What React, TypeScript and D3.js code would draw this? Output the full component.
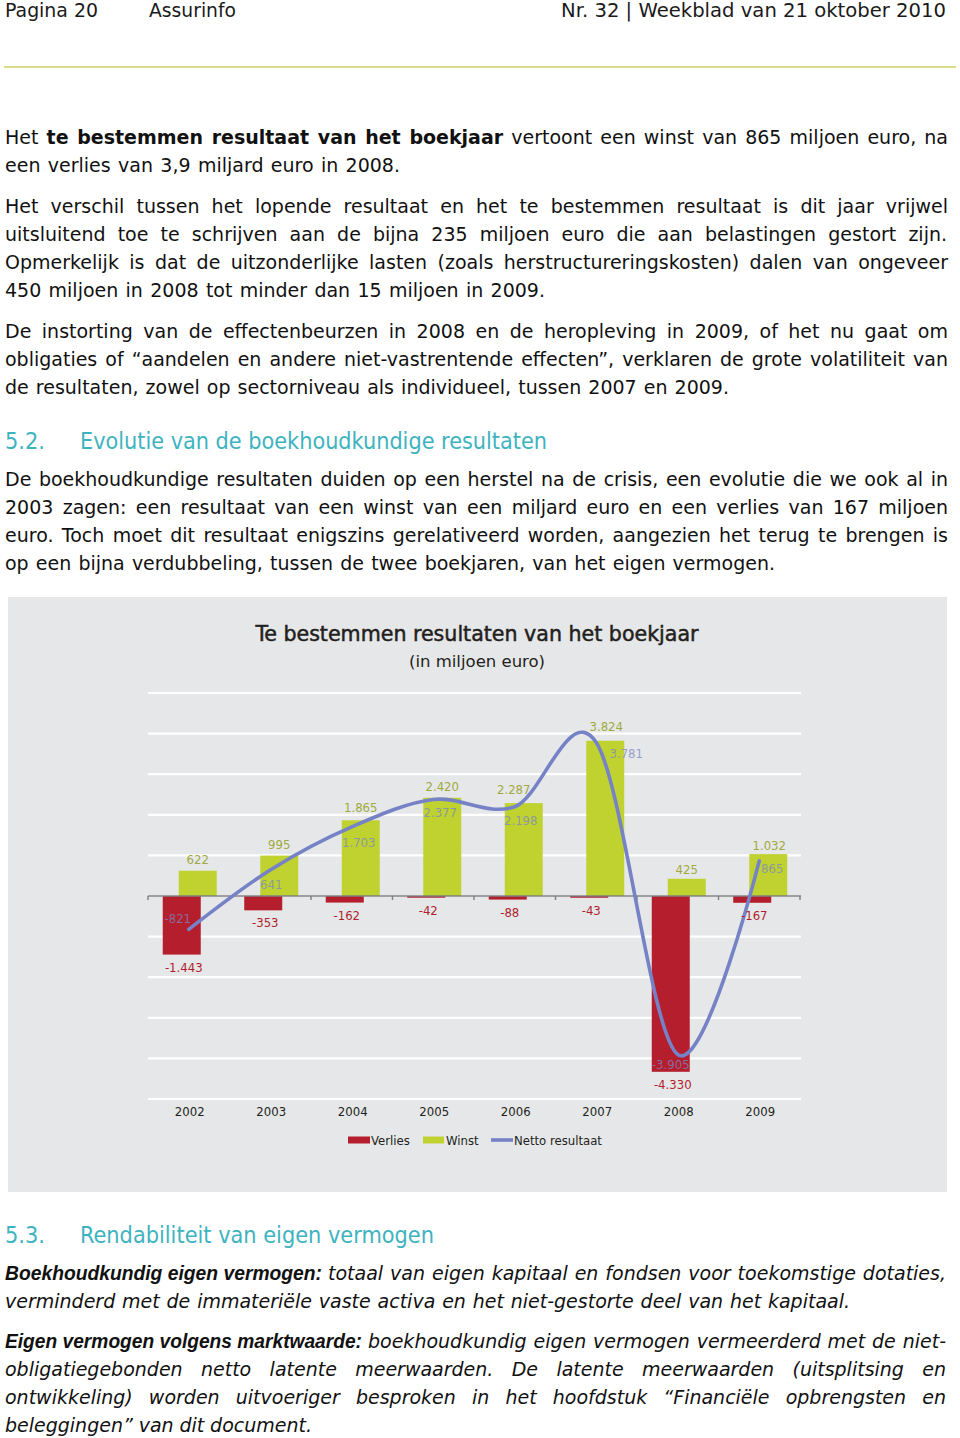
import React, { useEffect, useRef } from 'react';
import * as d3 from 'd3';

// ---------- chart data ----------
const years = ['2002', '2003', '2004', '2005', '2006', '2007', '2008', '2009'];
const winst = [622, 995, 1865, 2420, 2287, 3824, 425, 1032];
const verlies = [-1443, -353, -162, -42, -88, -43, -4330, -167];
const netto = [-821, 641, 1703, 2377, 2198, 3781, -3905, 865];
const yTicks = [-5000, -4000, -3000, -2000, -1000, 0, 1000, 2000, 3000, 4000, 5000];
const legendLabels = ['Verlies', 'Winst', 'Netto resultaat'];
const chartTitle = 'Te bestemmen resultaten van het boekjaar';
const chartSubtitle = '(in miljoen euro)';

// label nudges (layout only)
const winstNudge: [number, number][] = [[0, 0], [0, 0], [0, -2], [0, 0], [-10, -3], [1, -3], [0, 2], [1, 2]];
const nettoNudge: [number, number][] = [[-11, -6], [1, 19], [7, 20], [7, 18], [6, 18], [30, 16], [-7, 14], [13, 12]];

// ---------- page text ----------
type Seg = { t: string; b?: boolean };
type Line = { y: number; w: number; segs: Seg[]; it?: boolean; lead?: { t: string; w: number }; restX?: number };

const bodyLines: Line[] = [
  { y: 138, w: 943, segs: [{ t: 'Het ' }, { t: 'te bestemmen resultaat van het boekjaar', b: true }, { t: ' vertoont een winst van 865 miljoen euro, na' }] },
  { y: 166, w: 395, segs: [{ t: 'een verlies van 3,9 miljard euro in 2008.' }] },
  { y: 207, w: 943, segs: [{ t: 'Het verschil tussen het lopende resultaat en het te bestemmen resultaat is dit jaar vrijwel' }] },
  { y: 235, w: 942, segs: [{ t: 'uitsluitend toe te schrijven aan de bijna 235 miljoen euro die aan belastingen gestort zijn.' }] },
  { y: 263, w: 943, segs: [{ t: 'Opmerkelijk is dat de uitzonderlijke lasten (zoals herstructureringskosten) dalen van ongeveer' }] },
  { y: 291, w: 540, segs: [{ t: '450 miljoen in 2008 tot minder dan 15 miljoen in 2009.' }] },
  { y: 332, w: 943, segs: [{ t: 'De instorting van de effectenbeurzen in 2008 en de heropleving in 2009, of het nu gaat om' }] },
  { y: 360, w: 943, segs: [{ t: 'obligaties of \u201Caandelen en andere niet-vastrentende effecten\u201D, verklaren de grote volatiliteit van' }] },
  { y: 388, w: 724, segs: [{ t: 'de resultaten, zowel op sectorniveau als individueel, tussen 2007 en 2009.' }] },
  { y: 480, w: 943, segs: [{ t: 'De boekhoudkundige resultaten duiden op een herstel na de crisis, een evolutie die we ook al in' }] },
  { y: 508, w: 943, segs: [{ t: '2003 zagen: een resultaat van een winst van een miljard euro en een verlies van 167 miljoen' }] },
  { y: 536, w: 943, segs: [{ t: 'euro. Toch moet dit resultaat enigszins gerelativeerd worden, aangezien het terug te brengen is' }] },
  { y: 564, w: 770, segs: [{ t: 'op een bijna verdubbeling, tussen de twee boekjaren, van het eigen vermogen.' }] },
  { y: 1274, w: 618, it: true, lead: { t: 'Boekhoudkundig eigen vermogen:', w: 317 }, restX: 328, segs: [{ t: 'totaal van eigen kapitaal en fondsen voor toekomstige dotaties,' }] },
  { y: 1302, w: 845, it: true, segs: [{ t: 'verminderd met de immateri\u00EBle vaste activa en het niet-gestorte deel van het kapitaal.' }] },
  { y: 1342, w: 578, it: true, lead: { t: 'Eigen vermogen volgens marktwaarde:', w: 357 }, restX: 368, segs: [{ t: 'boekhoudkundig eigen vermogen vermeerderd met de niet-' }] },
  { y: 1370, w: 941, it: true, segs: [{ t: 'obligatiegebonden netto latente meerwaarden. De latente meerwaarden (uitsplitsing en' }] },
  { y: 1398, w: 941, it: true, segs: [{ t: 'ontwikkeling) worden uitvoeriger besproken in het hoofdstuk \u201CFinanci\u00EBle opbrengsten en' }] },
  { y: 1426, w: 307, it: true, segs: [{ t: 'beleggingen\u201D van dit document.' }] },
];

const headings = [
  { y: 441, num: '5.2.', title: 'Evolutie van de boekhoudkundige resultaten', w: 467 },
  { y: 1235, num: '5.3.', title: 'Rendabiliteit van eigen vermogen', w: 354 },
];

const bodyFont = "'DejaVu Sans', Verdana, sans-serif";
const condFont = "'DejaVu Sans Condensed', 'DejaVu Sans', sans-serif";
const arialFont = "'Liberation Sans', Arial, sans-serif";

const RED = '#b51e2d';
const GREEN = '#bfd230';
const LINE = '#7682c6';

export default function App() {
  const ref = useRef<SVGSVGElement>(null);

  const x = d3.scaleBand<string>().domain(years).range([148, 800]).padding(0);
  const y = d3.scaleLinear().domain([-5000, 5000]).range([1099, 693]);
  const bw = x.bandwidth();
  const cx = (yr: string) => (x(yr) as number) + bw / 2;
  const loc = d3.formatLocale({ decimal: ',', thousands: '.', grouping: [3], currency: ['\u20AC', ''], minus: '-' } as any);
  const fmt = loc.format(',d');
  const lineGen = d3
    .line<number>()
    .x((_, i) => cx(years[i]))
    .y((d) => y(d))
    .curve(d3.curveCardinal.tension(0));
  const y0 = y(0);

  useEffect(() => {
    if (!ref.current) return;
    d3.select(ref.current)
      .selectAll<SVGTextElement, unknown>('text[data-w]')
      .each(function () {
        const el = d3.select(this);
        el.attr('word-spacing', 0);
        const w = +(this.getAttribute('data-w') || 0);
        const len = this.getComputedTextLength();
        const n = (this.textContent || '').split(' ').length - 1;
        if (n > 0) el.attr('word-spacing', (w - len) / n);
      });
  }, []);

  return (
    <div style={{ position: 'absolute', left: 0, top: 0 }}>
      <svg ref={ref} width={960} height={1438} style={{ display: 'block', background: '#fff' }}>
        {/* header */}
        <g fontFamily={bodyFont} fontSize={19} fill="#1a1a1a">
          <text x={5} y={16.5} textLength={93} lengthAdjust="spacingAndGlyphs">Pagina 20</text>
          <text x={149} y={16.5} textLength={87} lengthAdjust="spacingAndGlyphs">Assurinfo</text>
          <text x={946} y={16.5} textAnchor="end" textLength={385} lengthAdjust="spacingAndGlyphs">
            Nr. 32 | Weekblad van 21 oktober 2010
          </text>
        </g>
        <line x1={4} x2={956} y1={67} y2={67} stroke="#d8dc86" strokeWidth={2} />

        {/* body text */}
        <g fontFamily={bodyFont} fontSize={19} fill="#111">
          {bodyLines.map((l, i) => (
            <g key={i}>
              {l.lead && (
                <text x={5} y={l.y + 6} fontFamily={arialFont} fontWeight="bold" fontStyle="italic" fontSize={19.5} textLength={l.lead.w} lengthAdjust="spacingAndGlyphs">
                  {l.lead.t}
                </text>
              )}
              <text x={l.restX ?? 5} y={l.y + 6} data-w={l.w} fontStyle={l.it ? 'italic' : 'normal'}>
                {l.segs.map((s, j) => (
                  <tspan key={j} fontWeight={s.b ? 'bold' : 'normal'}>{s.t}</tspan>
                ))}
              </text>
            </g>
          ))}
        </g>

        {/* headings */}
        <g fontFamily={condFont} fontSize={23} fill="#3eb3c0">
          {headings.map((h, i) => (
            <g key={i}>
              <text x={5} y={h.y + 8} textLength={40} lengthAdjust="spacingAndGlyphs">{h.num}</text>
              <text x={80} y={h.y + 8} textLength={h.w} lengthAdjust="spacingAndGlyphs">{h.title}</text>
            </g>
          ))}
        </g>

        {/* chart panel */}
        <rect x={8} y={597} width={939} height={595} fill="#e6e7e8" />
        <text x={477} y={641} textAnchor="middle" fontFamily={condFont} fontSize={20.5} fill="#231f20" stroke="#231f20" strokeWidth={0.45} textLength={443} lengthAdjust="spacingAndGlyphs">
          {chartTitle}
        </text>
        <text x={477} y={667} textAnchor="middle" fontFamily={condFont} fontSize={15} fill="#231f20" textLength={136} lengthAdjust="spacingAndGlyphs">
          {chartSubtitle}
        </text>

        {/* gridlines */}
        {yTicks.map((t) => (
          <line key={t} x1={148} x2={801} y1={y(t)} y2={y(t)} stroke="#ffffff" strokeWidth={2.2} />
        ))}

        {/* bars */}
        {years.map((yr, i) => (
          <g key={yr}>
            <rect x={cx(yr) - 10} y={y(winst[i])} width={38} height={y0 - y(winst[i])} fill={GREEN} />
            <rect x={cx(yr) - 26} y={y0} width={38} height={y(verlies[i]) - y0} fill={RED} />
          </g>
        ))}

        {/* axis */}
        <line x1={148} x2={801} y1={y0} y2={y0} stroke="#7f7f7f" strokeWidth={1.6} />
        {x.domain().concat(['end']).map((yr, i) => {
          const xx = 148 + i * bw;
          return <line key={i} x1={xx} x2={xx} y1={y0} y2={y0 + 4} stroke="#7f7f7f" strokeWidth={1.4} />;
        })}

        {/* netto line */}
        <path d={lineGen(netto) || ''} fill="none" stroke={LINE} strokeWidth={3.6} strokeLinecap="round" />

        {/* labels */}
        <g fontFamily={condFont} fontSize={13} textAnchor="middle">
          {years.map((yr, i) => (
            <g key={yr}>
              <text x={cx(yr) + 9 + winstNudge[i][0]} y={y(winst[i]) - 6.5 + winstNudge[i][1]} fill="#9faa3f">
                {fmt(winst[i])}
              </text>
              <text x={cx(yr) - 5} y={y(verlies[i]) + 17} fill="#b01f2e">
                {fmt(verlies[i])}
              </text>
              <text x={cx(yr) + nettoNudge[i][0]} y={y(netto[i]) + nettoNudge[i][1]} fill="#7b86c0" fillOpacity={0.75}>
                {fmt(netto[i])}
              </text>
            </g>
          ))}
        </g>

        {/* x labels */}
        <g fontFamily={condFont} fontSize={13} fill="#231f20" textAnchor="middle">
          {years.map((yr) => (
            <text key={yr} x={cx(yr) + 1} y={1115.5}>{yr}</text>
          ))}
        </g>

        {/* legend */}
        <g fontFamily={condFont} fontSize={13} fill="#231f20">
          <rect x={348} y={1136.5} width={22} height={7} fill={RED} />
          <text x={371} y={1144.5}>{legendLabels[0]}</text>
          <rect x={423} y={1136.5} width={21} height={7} fill={GREEN} />
          <text x={446} y={1144.5}>{legendLabels[1]}</text>
          <line x1={491} x2={513} y1={1140} y2={1140} stroke={LINE} strokeWidth={3.6} />
          <text x={514} y={1144.5}>{legendLabels[2]}</text>
        </g>
      </svg>
    </div>
  );
}
